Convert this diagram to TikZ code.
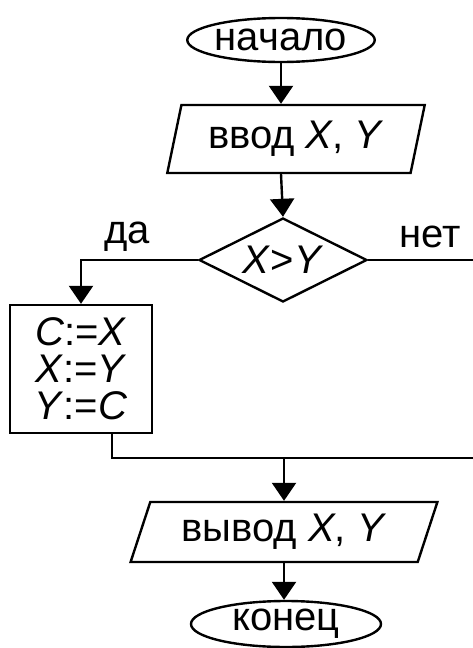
\documentclass[tikz,border=0pt]{standalone}
\usepackage{fontspec}
\setmainfont{Liberation Sans}
\usepackage{tikz}
\usetikzlibrary{arrows.meta, positioning, shapes.geometric}

\begin{document}
\begin{tikzpicture}[x=0.5pt, y=-0.5pt, line width=1.2pt,
    font=\fontsize{20}{20}\selectfont,
    term/.style={draw, ellipse, inner sep=0pt, minimum width=92pt, minimum height=22pt},
    io/.style={draw, trapezium, trapezium stretches=true, inner sep=0pt},
    cond/.style={draw, diamond, aspect=2, inner sep=0pt, minimum width=84pt, minimum height=42pt},
    proc/.style={draw, rectangle, align=center, inner sep=0pt, minimum width=71pt, minimum height=64pt,
                 font=\fontsize{20}{18.5}\selectfont},
    arr/.style={-{Triangle[length=9pt, width=12pt]}}]
    \useasboundingbox (0,0) rectangle (472,648);

    \node[term] (start) at (281,40) {начало};
    \node[io, trapezium left angle=73, trapezium right angle=107,
          minimum width=129pt, minimum height=34pt] (input) at (296,139) {ввод \textit{X}, \textit{Y}};
    \node[cond] (test) at (283,260) {\textit{X}>\textit{Y}};
    \node[proc] (swap) at (81,369) {\textit{C}:=\textit{X}\\\textit{X}:=\textit{Y}\\\textit{Y}:=\textit{C}};
    \node[io, trapezium left angle=67, trapezium right angle=113,
          minimum width=153.5pt, minimum height=30pt] (output) at (284,532) {вывод \textit{X}, \textit{Y}};
    \node[term, minimum width=95pt, minimum height=23pt] (finish) at (286,624) {конец};

    \node (yes) at (127,237) {да};
    \node (no) at (430,237) {нет};

    \coordinate (merge) at (112,458);
    \coordinate (corner) at (474,458);

    \draw[arr] (start.south) -- (start.south |- input.north);
    \draw[arr] (start.south |- input.south) -- (test.north);
    \draw[arr] (test.west) -| (swap.north);
    \draw (test.east) -| (corner) -- (merge) -- (swap.south -| merge);
    \draw[arr] (output.north |- merge) -- (output.north);
    \draw[arr] (output.south) -- (output.south |- finish.north);
\end{tikzpicture}
\end{document}
